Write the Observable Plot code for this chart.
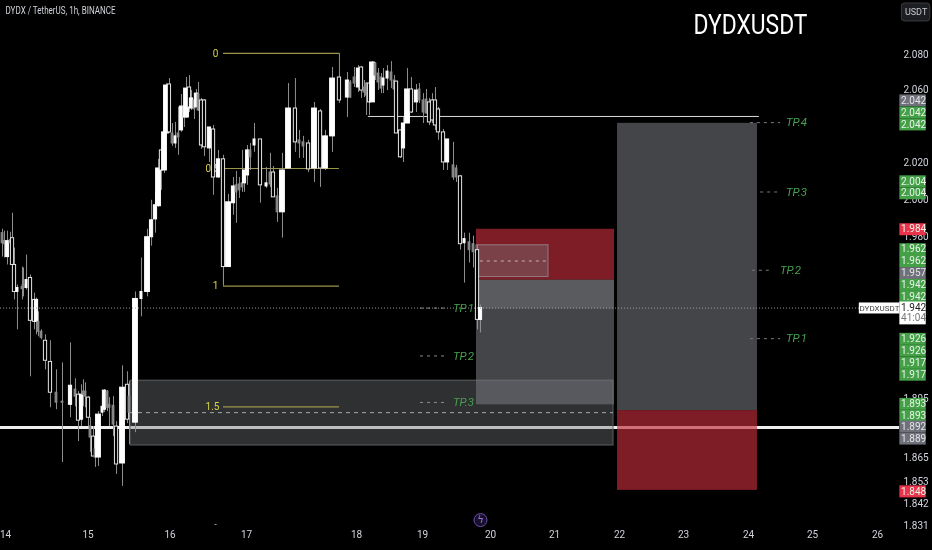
<!DOCTYPE html>
<html><head><meta charset="utf-8">
<script src="https://cdn.jsdelivr.net/npm/d3@7"></script>
<script src="https://cdn.jsdelivr.net/npm/@observablehq/plot@0.6"></script>
<style>html,body{margin:0;padding:0;background:#000;overflow:hidden}svg{display:block;filter:blur(0.4px)}</style>
</head><body><div id="chart"></div>
<script>
const days = [13.964,13.988,14.024,14.061,14.085,14.109,14.145,14.206,14.218,14.255,
14.303,14.352,14.376,14.400,14.436,14.485,14.545,14.618,14.691,14.788,
14.848,14.885,14.921,14.945,14.970,15.006,15.030,15.067,15.091,15.128,
15.177,15.201,15.238,15.262,15.311,15.348,15.421,15.482,15.506,15.579,
15.652,15.726,15.775,15.823,15.860,15.896,15.933,15.957,15.994,16.033,
16.072,16.111,16.150,16.190,16.216,16.255,16.281,16.320,16.346,16.373,
16.412,16.451,16.516,16.569,16.634,16.699,16.765,16.830,16.869,16.908,
16.948,16.974,17.009,17.036,17.073,17.127,17.182,17.218,17.245,17.282,
17.327,17.382,17.445,17.482,17.518,17.564,17.618,17.673,17.718,17.782,
17.845,17.918,17.945,17.982,18.030,18.076,18.121,18.152,18.197,18.242,
18.288,18.333,18.379,18.409,18.470,18.530,18.576,18.606,18.667,18.712,
18.773,18.833,18.909,18.955,19.015,19.059,19.103,19.147,19.191,19.235,
19.309,19.368,19.456,19.500,19.559,19.618,19.691,19.750,19.809,19.853];
const opens = [1.9818,1.9775,1.9690,1.9780,1.9791,1.9648,1.9505,1.9531,1.9542,1.9526,
1.9579,1.9463,1.9348,1.9348,1.9296,1.9249,1.9139,1.8980,1.8934,1.8918,
1.8996,1.8970,1.8842,1.8986,1.8986,1.8955,1.8807,1.8756,1.8691,1.8650,
1.8878,1.8893,1.8986,1.8918,1.8913,1.8807,1.8620,1.9021,1.8960,1.8827,
1.9468,1.9505,1.9796,1.9892,1.9963,2.0267,2.0157,2.0360,2.0632,2.0360,
2.0305,2.0360,2.0377,2.0509,2.0448,2.0615,2.0498,2.0543,2.0504,2.0576,
2.0543,2.0543,2.0278,2.0382,2.0119,2.0218,1.9637,1.9979,2.0076,2.0081,
2.0087,2.0087,2.0130,2.0267,2.0294,2.0327,2.0070,2.0146,2.0146,2.0016,
1.9930,2.0168,2.0498,2.0322,2.0311,2.0305,2.0168,2.0482,2.0168,2.0344,
2.0671,2.0559,2.0643,2.0671,2.0615,2.0727,2.0615,2.0637,2.0637,2.0532,
2.0749,2.0693,2.0671,2.0626,2.0665,2.0699,2.0654,2.0648,2.0377,2.0278,
2.0415,2.0604,2.0532,2.0604,2.0543,2.0548,2.0532,2.0543,2.0543,2.0493,
2.0366,2.0201,2.0185,2.0168,2.0125,1.9764,1.9769,1.9759,1.9727,1.9358];
const highs = [1.9839,1.9829,1.9829,1.9823,1.9925,1.9738,1.9542,1.9637,1.9632,1.9701,
1.9595,1.9499,1.9473,1.9400,1.9306,1.9280,1.9249,1.9098,1.9134,1.9238,
1.9052,1.8986,1.9021,1.9047,1.9031,1.8960,1.8852,1.8807,1.8792,1.8883,
1.8960,1.8996,1.8991,1.8955,1.8960,1.8832,1.9119,1.9088,1.9037,1.9505,
1.9685,1.9839,1.9995,2.0038,2.0218,2.0267,2.0366,2.0637,2.0665,2.0415,
2.0421,2.0504,2.0576,2.0559,2.0671,2.0682,2.0598,2.0581,2.0604,2.0643,
2.0554,2.0548,2.0393,2.0404,2.0267,2.0240,2.0027,2.0119,2.0152,2.0119,
2.0267,2.0157,2.0294,2.0305,2.0415,2.0327,2.0174,2.0251,2.0179,2.0060,
2.0251,2.0637,2.0665,2.0377,2.0344,2.0322,2.0532,2.0493,2.0377,2.0727,
2.0688,2.0699,2.0654,2.0727,2.0738,2.0732,2.0654,2.0643,2.0654,2.0760,
2.0755,2.0721,2.0693,2.0721,2.0738,2.0760,2.0682,2.0648,2.0377,2.0448,
2.0721,2.0671,2.0632,2.0637,2.0581,2.0604,2.0554,2.0581,2.0615,2.0504,
2.0382,2.0327,2.0311,2.0185,2.0130,1.9818,1.9818,1.9802,1.9753,1.9436];
const lows = [1.9690,1.9685,1.9648,1.9711,1.9621,1.9463,1.9306,1.9463,1.9479,1.9515,
1.9062,1.9306,1.9280,1.9270,1.9254,1.9098,1.8903,1.8893,1.8625,1.8852,
1.8908,1.8731,1.8807,1.8908,1.8903,1.8807,1.8676,1.8655,1.8600,1.8605,
1.8858,1.8878,1.8883,1.8807,1.8756,1.8565,1.8505,1.8822,1.8716,1.8776,
1.9374,1.9479,1.9748,1.9818,1.9957,2.0049,2.0141,2.0360,2.0360,2.0289,
2.0278,2.0240,2.0366,2.0393,2.0443,2.0476,2.0487,2.0437,2.0526,2.0482,
2.0273,2.0234,2.0201,2.0022,2.0114,1.9542,1.9637,1.9914,1.9871,2.0005,
2.0038,2.0038,2.0076,2.0157,2.0256,1.9979,2.0060,2.0065,2.0011,1.9876,
1.9791,2.0163,2.0256,2.0223,2.0223,2.0146,2.0092,2.0065,2.0157,2.0256,
2.0526,2.0448,2.0554,2.0615,2.0587,2.0554,2.0559,2.0459,2.0459,2.0532,
2.0654,2.0598,2.0581,2.0581,2.0598,2.0609,2.0587,2.0360,2.0223,2.0201,
2.0415,2.0470,2.0476,2.0526,2.0415,2.0470,2.0404,2.0415,2.0377,2.0322,
2.0157,2.0157,2.0103,2.0092,1.9727,1.9552,1.9658,1.9632,1.9306,1.9290];
const closes = [1.9764,1.9759,1.9775,1.9764,1.9648,1.9505,1.9526,1.9520,1.9526,1.9568,
1.9353,1.9348,1.9463,1.9296,1.9264,1.9145,1.8980,1.8929,1.8929,1.9016,
1.8960,1.8837,1.8970,1.8970,1.8960,1.8852,1.8751,1.8655,1.8650,1.8868,
1.8908,1.8991,1.8903,1.8903,1.8817,1.8615,1.9006,1.8842,1.8878,1.9468,
1.9505,1.9796,1.9887,1.9968,2.0168,2.0157,2.0366,2.0626,2.0366,2.0305,
2.0344,2.0338,2.0509,2.0448,2.0609,2.0504,2.0554,2.0493,2.0581,2.0487,
2.0294,2.0284,2.0393,2.0119,2.0218,1.9637,1.9984,2.0070,2.0038,2.0049,
2.0065,2.0157,2.0267,2.0229,2.0327,2.0076,2.0087,2.0081,2.0011,1.9930,
2.0157,2.0498,2.0311,2.0305,2.0289,2.0163,2.0498,2.0168,2.0344,2.0665,
2.0543,2.0654,2.0559,2.0637,2.0721,2.0598,2.0587,2.0570,2.0532,2.0755,
2.0682,2.0643,2.0609,2.0665,2.0704,2.0654,2.0604,2.0360,2.0229,2.0415,
2.0604,2.0476,2.0598,2.0543,2.0476,2.0470,2.0421,2.0432,2.0404,2.0366,
2.0201,2.0327,2.0119,2.0119,1.9759,1.9786,1.9727,1.9716,1.9358,1.9420];

const dayTicks = [14,15,16,17,18,19,20,21,22,23,24,25,26];
const dayPixels = [5,87.5,169.5,246,356,422,490,554,619,683,748,812,877];
const priceTicks = [2.08,2.06,2.02,2.0,1.98,1.895,1.865,1.853,1.842,1.831];

const fibNames = ["0","0.5","1","1.5"];
const fibLevels = [2.0806,2.0168,1.9536,1.8908];
const fibStart = 16.699, fibEnd = 17.845;

const tagTexts = ["2.042","2.042","2.042","2.004","2.004","1.984","1.962","1.962","1.957","1.942","1.942","1.926","1.926","1.917","1.917","1.893","1.893","1.892","1.889","1.848"];
const tagLevels = [2.0543,2.0476,2.0410,2.0098,2.0033,1.9839,1.9732,1.9669,1.9605,1.9542,1.9479,1.9259,1.9197,1.9134,1.9073,1.8923,1.8862,1.8807,1.8746,1.8480];
const tagKinds = ["gray","green","green","green","green","red","green","green","gray","green","green","green","green","green","green","green","green","gray","gray","red"];

const tpLeftNames = ["TP.1","TP.2","TP.3"];
const tpLeftLevels = [1.942,1.917,1.893];
const tpRightNames = ["TP.4","TP.3","TP.2","TP.1"];
const tpRightLevels = [2.042,2.004,1.962,1.926];
const tpRightDays = [24.75,24.75,24.656,24.75];
const tpRightDashStart = [24.03,24.19,24.06,24.03];
const tpRightDashEnd = [24.5,24.5,24.375,24.5];

function pxPerDay(d){
  const i = Math.max(0,Math.min(dayTicks.length-2,Math.floor(d)-14));
  return dayPixels[i+1]-dayPixels[i];
}
const candles = days.map((d,i)=>({d,o:opens[i],h:highs[i],l:lows[i],c:closes[i]}));
candles.forEach(k=>{
  const up = k.c>k.o, s = Math.abs(k.c-k.o);
  const px = up ? (s>0.015?2.4:s>0.005?1.6:1) : (s>0.01?1.6:0.9);
  const w = px/pxPerDay(k.d);
  k.x1=k.d-w; k.x2=k.d+w;
  k.top=Math.max(k.o,k.c); k.bot=Math.min(k.o,k.c);
  k.up=up; k.gray=!up&&s<=0.01;
});
const tags = tagTexts.map((t,i)=>({t,y:tagLevels[i],k:tagKinds[i]}));
const tagColor = {green:"#43a047",gray:"#6f717a",red:"#e8334a"};
const fibs = fibNames.map((n,i)=>({n,y:fibLevels[i]}));
const grayC="#75777e", redC="#c32d3a";
const font="'Liberation Sans Narrow', Roboto, sans-serif";
const axisX0=26.344, axisX1=26.75, axisXC=26.555;

const zones=[
  {x1:15.518,x2:21.908,y1:1.9042,y2:1.8711,f:grayC,a:0.4,s:"#5e5f64"},
  {x1:19.794,x2:21.923,y1:1.9568,y2:1.8918,f:grayC,a:0.58,s:"none"},
  {x1:19.794,x2:21.923,y1:1.9568,y2:1.9415,f:"#ffffff",a:0.12,s:"none"},
  {x1:19.794,x2:21.923,y1:1.9839,y2:1.9568,f:redC,a:0.65,s:"none"},
  {x1:19.794,x2:20.906,y1:1.9753,y2:1.9584,f:grayC,a:0.4,s:"#8f7a80"},
  {x1:21.97,x2:24.14,y1:2.0416,y2:1.8888,f:grayC,a:0.58,s:"none"},
  {x1:21.97,x2:24.14,y1:1.8888,y2:1.8485,f:redC,a:0.65,s:"none"}
];

const plot = Plot.plot({
  width:932,height:550,marginLeft:0,marginRight:33,marginTop:0,marginBottom:22,
  style:{background:"#000",color:"#d1d4dc",fontFamily:font,fontSize:"10px"},
  x:{type:"linear",domain:dayTicks,range:dayPixels},
  y:{type:"log",domain:[1.831,2.08],range:[525,54]},
  marks:[
    Plot.axisX({ticks:dayTicks,tickSize:0,tickPadding:2,tickFormat:d=>String(d),label:null,fontSize:10}),
    Plot.axisY({anchor:"right",ticks:priceTicks,tickSize:0,tickPadding:4,tickFormat:d3.format(".3f"),label:null,fontSize:10}),
    Plot.ruleY([1.8802],{stroke:"#eeeeee",strokeWidth:3}),
    Plot.rect(zones,{x1:"x1",x2:"x2",y1:"y1",y2:"y2",fill:"f",fillOpacity:"a",stroke:"s"}),
    Plot.ruleY([1.8878],{x1:15.518,x2:21.908,stroke:"#a5a7ab",strokeDasharray:"4,4",strokeWidth:1}),
    Plot.ruleY([1.9669],{x1:19.85,x2:20.906,stroke:"#c9b0b4",strokeDasharray:"3,4",strokeWidth:1}),
    Plot.ruleY(fibs,{y:"y",x1:fibStart,x2:fibEnd,stroke:"#9c9648",strokeWidth:1.2}),
    Plot.ruleX([fibEnd],{y1:2.0806,y2:2.0671,stroke:"#9c9648"}),
    Plot.ruleX([fibStart],{y1:1.9637,y2:1.9536,stroke:"#9c9648"}),
    Plot.text(fibs,{text:"n",y:"y",x:d=>d.n.length>1?16.556:16.595,fill:"#d6d34a",fontSize:10}),
    Plot.ruleY([2.0454],{x1:18.18,x2:24.17,stroke:"#dcdcdc",strokeWidth:1}),
    Plot.ruleX(candles,{x:"d",y1:"l",y2:"h",stroke:"#8f8f8f",strokeWidth:1}),
    Plot.rect(candles,{x1:"x1",x2:"x2",y1:"bot",y2:"top",
      fill:k=>k.up?"#ffffff":k.gray?"#8a8a8a":"#000000",
      stroke:k=>k.up?"#ffffff":k.gray?"#8a8a8a":"#e4e4e4",strokeWidth:1}),
    Plot.ruleY([1.942],{x1:13.94,x2:26.3,stroke:"#a0a0a0",strokeDasharray:"1,2",strokeWidth:1}),
    Plot.ruleY(tpLeftLevels,{x1:18.97,x2:19.382,stroke:"#8c8c8c",strokeDasharray:"3,4"}),
    Plot.text(tpLeftNames,{text:d=>d,y:(d,i)=>tpLeftLevels[i],x:19.603,fill:"#46a04e",fontStyle:"italic",fontSize:11.5}),
    Plot.ruleY(tpRightLevels,{x1:(d,i)=>tpRightDashStart[i],x2:(d,i)=>tpRightDashEnd[i],stroke:"#7a7a7a",strokeDasharray:"3,4"}),
    Plot.text(tpRightNames,{text:d=>d,y:(d,i)=>tpRightLevels[i],x:(d,i)=>tpRightDays[i],fill:"#46a04e",fontStyle:"italic",fontSize:11.5}),
    Plot.ruleY(tags,{y:"y",x1:axisX0,x2:axisX1,stroke:d=>tagColor[d.k],strokeWidth:12}),
    Plot.text(tags,{text:"t",y:"y",x:axisXC,fill:d=>d.k==="gray"?"#e4e4e8":"#e8f4e8",fontSize:10}),
    Plot.rect([0],{x1:axisX0,x2:axisX1,y1:1.9452,y2:1.9332,fill:"#ffffff"}),
    Plot.text(["1.942"],{y:1.9420,x:axisXC,fill:"#222",fontSize:10}),
    Plot.text(["41:04"],{y:1.9368,x:axisXC,fill:"#777",fontSize:10}),
    Plot.rect([0],{x1:25.72,x2:26.344,y1:1.9447,y2:1.9389,fill:"#ffffff"}),
    Plot.text(["DYDXUSDT"],{y:1.9420,x:26.03,fill:"#444",fontSize:8}),
    Plot.rect([0],{x1:26.375,x2:26.8125,y1:2.1089,y2:2.0987,fill:"#1d1e22",stroke:"#3a3b40",rx:3}),
    Plot.text(["USDT"],{y:2.1038,x:26.594,fill:"#c8cad0",fontSize:9}),
    Plot.text(["DYDX / TetherUS, 1h, BINANCE"],{className:"hdr",frameAnchor:"top-left",dx:5,dy:6,fill:"#d1d4dc",fontSize:10,textAnchor:"start"}),
    Plot.text(["DYDXUSDT"],{className:"bigtitle",frameAnchor:"top-right",dx:-92,dy:14,fill:"#ffffff",fontSize:27,textAnchor:"end"}),
    Plot.dot([0],{x:19.853,y:1.8337,r:6.5,stroke:"#6f4bb0",fill:"#17102a",strokeWidth:1}),
    Plot.text(["ϟ"],{x:19.853,y:1.8337,fill:"#9a6fe0",fontSize:10,fontFamily:"DejaVu Sans"}),
    Plot.text(["-"],{x:16.595,y:1.8315,fill:"#ccc",fontSize:9})
  ]
});
const fit=(sel,len)=>{const t=plot.querySelector(sel+" text");if(t){t.setAttribute("textLength",len);t.setAttribute("lengthAdjust","spacingAndGlyphs");}};
fit(".hdr",110);fit(".bigtitle",114);
document.getElementById("chart").appendChild(plot);
</script></body></html>
